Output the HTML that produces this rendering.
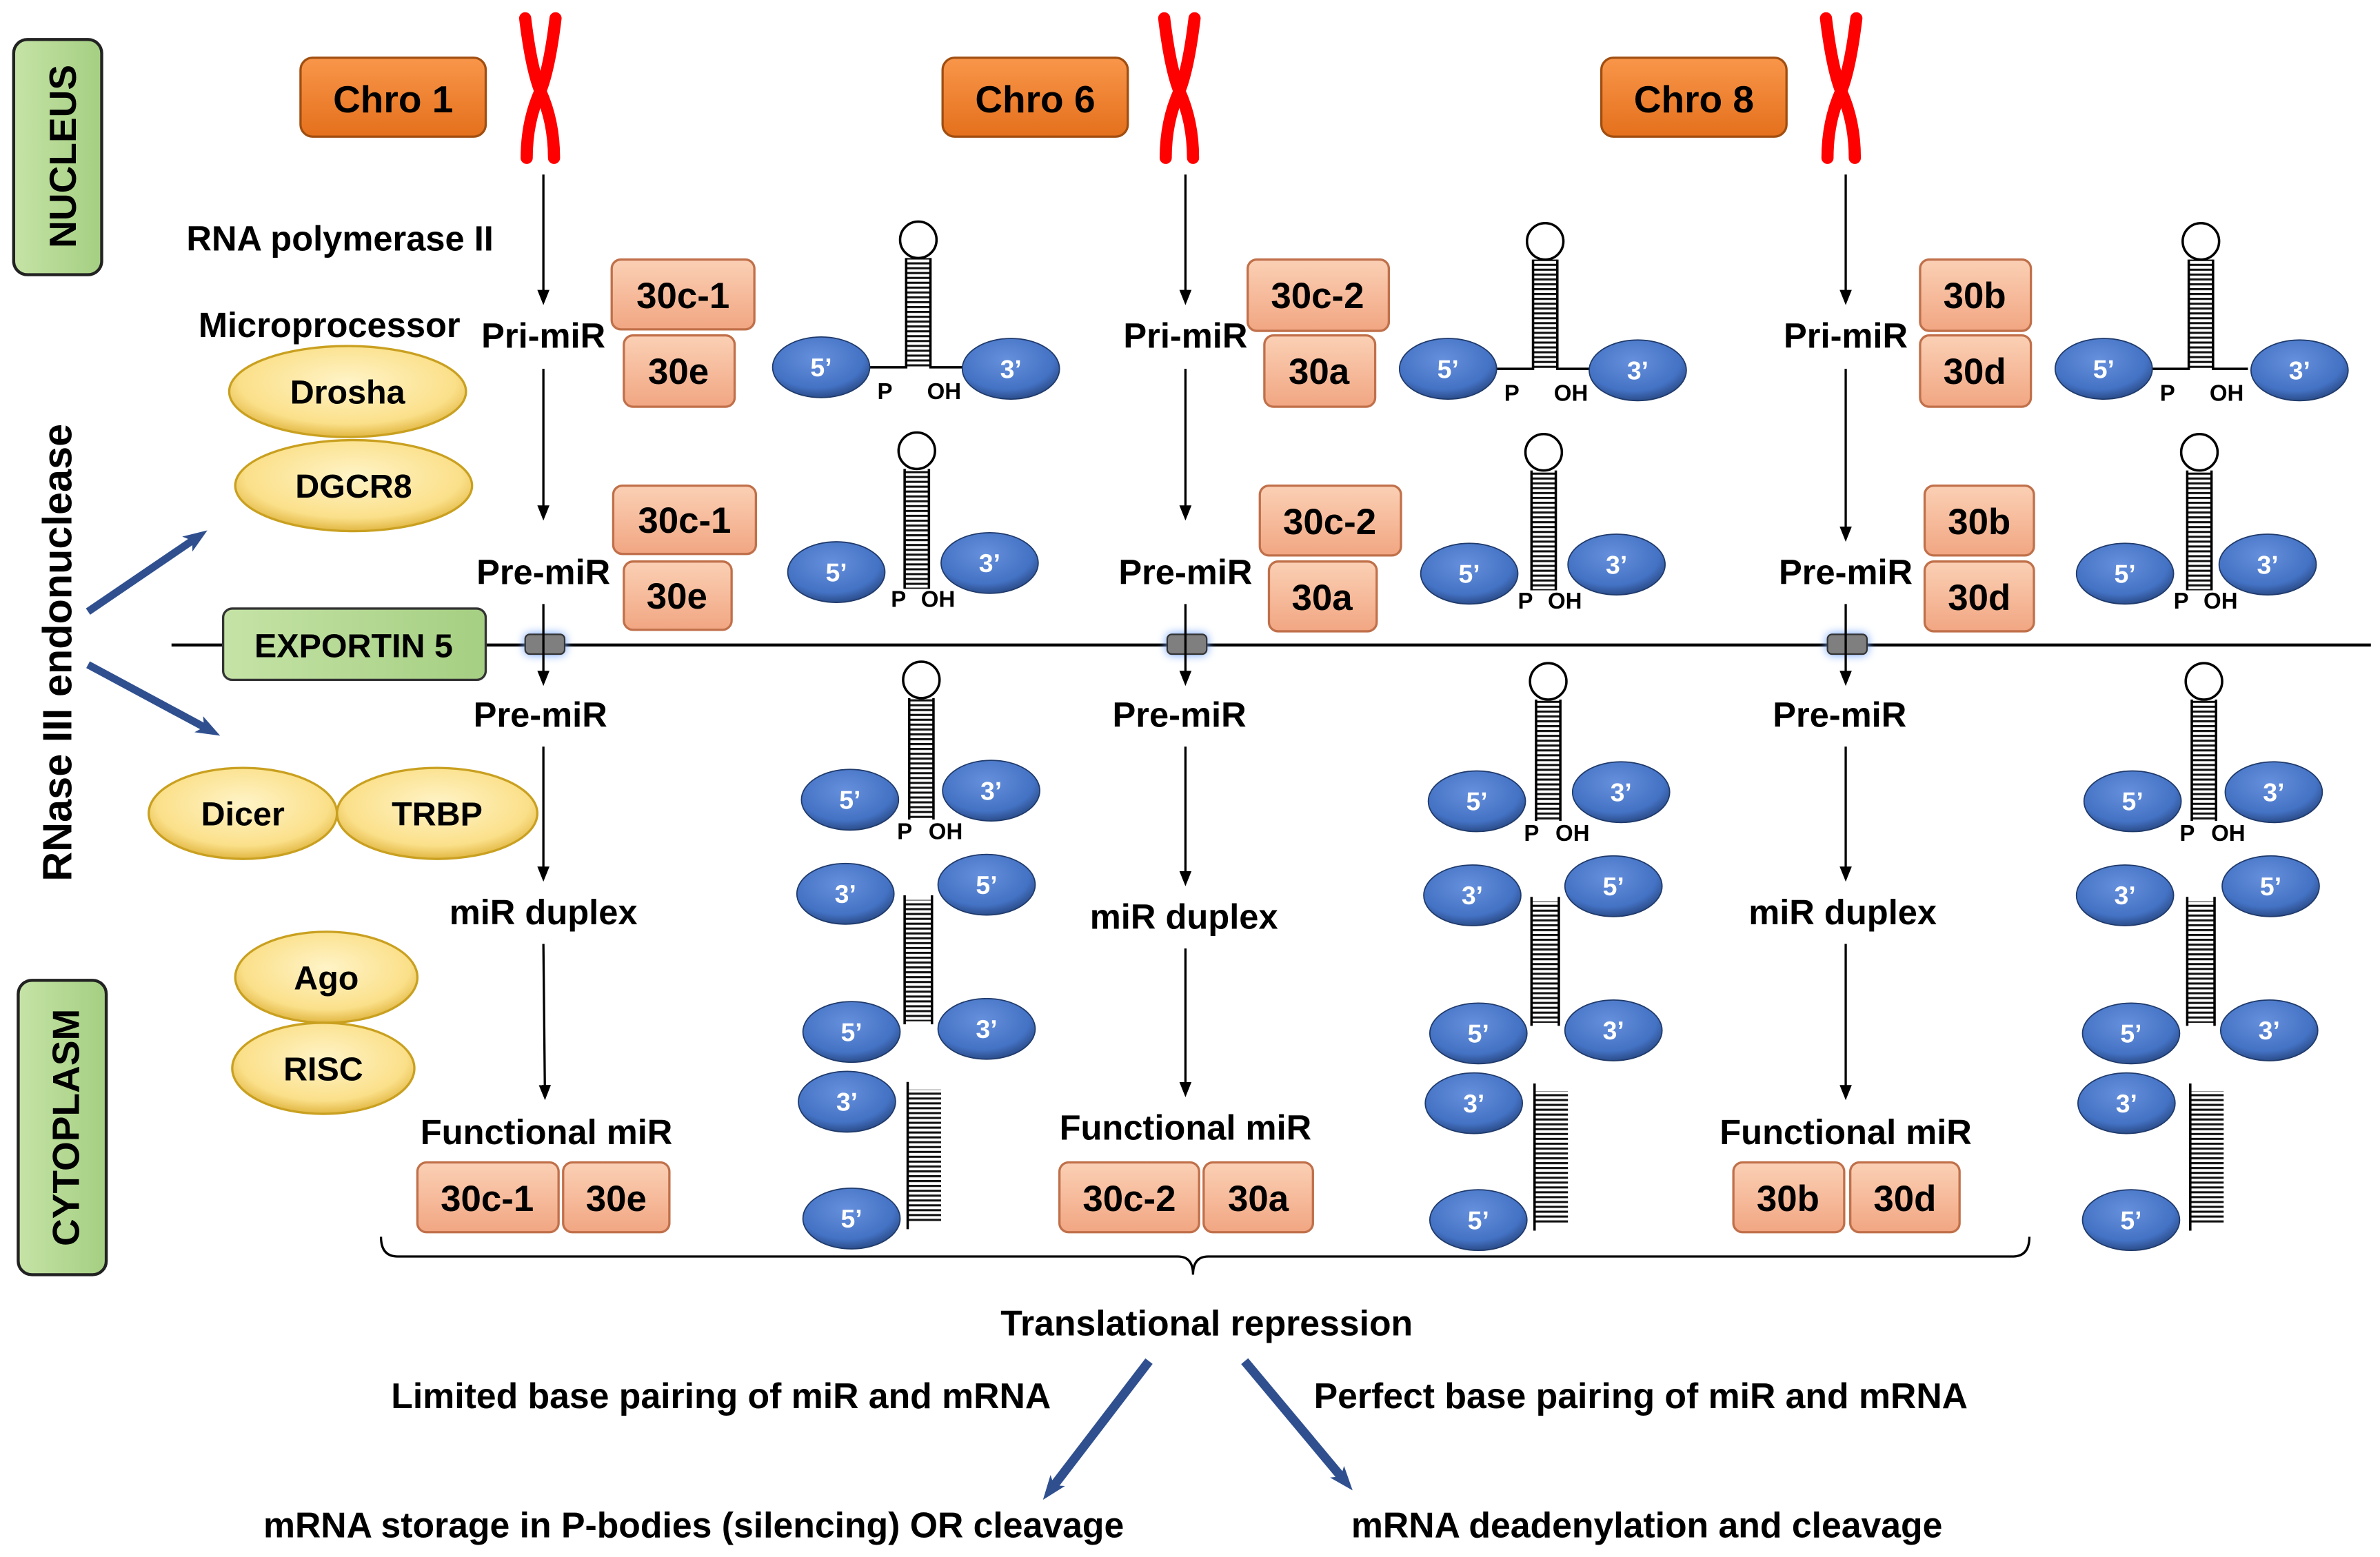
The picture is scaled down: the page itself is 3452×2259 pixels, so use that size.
<!DOCTYPE html>
<html><head><meta charset="utf-8"><style>
html,body{margin:0;padding:0;background:#fff;}
svg{display:block;}
text{font-family:"Liberation Sans",Arial,sans-serif;font-weight:bold;}
</style></head><body>
<svg width="3452" height="2259" viewBox="0 0 1568 1026" xmlns="http://www.w3.org/2000/svg">
<defs>
<radialGradient id="gb" cx="0.45" cy="0.35" r="0.7"><stop offset="0" stop-color="#6690dc"/><stop offset="0.7" stop-color="#4472c4"/><stop offset="1" stop-color="#24427a"/></radialGradient>
<radialGradient id="gy" cx="0.5" cy="0.4" r="0.65"><stop offset="0" stop-color="#fff4c8"/><stop offset="0.7" stop-color="#fbe08a"/><stop offset="1" stop-color="#d9a92a"/></radialGradient>
<linearGradient id="gs" x1="0" y1="0" x2="0" y2="1"><stop offset="0" stop-color="#fbd0b5"/><stop offset="1" stop-color="#f1a682"/></linearGradient>
<linearGradient id="go" x1="0" y1="0" x2="0" y2="1"><stop offset="0" stop-color="#f9964a"/><stop offset="1" stop-color="#e4701c"/></linearGradient>
<linearGradient id="gg" x1="0" y1="0" x2="1" y2="0"><stop offset="0" stop-color="#c5e3a6"/><stop offset="1" stop-color="#a5cf82"/></linearGradient>
<pattern id="lad" patternUnits="userSpaceOnUse" width="30" height="3.2"><rect x="0" y="0" width="30" height="1.4" fill="#111"/></pattern>
<marker id="ah" markerWidth="10" markerHeight="10" refX="5" refY="5" orient="auto" markerUnits="userSpaceOnUse"><path d="M0,1 L10,5 L0,9 z" fill="#000"/></marker>
<marker id="bh" markerWidth="16" markerHeight="16" refX="8" refY="8" orient="auto" markerUnits="userSpaceOnUse"><path d="M0,2 L16,8 L0,14 L4,8 z" fill="#2f4f8f"/></marker>
</defs>

<rect x="9" y="26" width="58" height="155" rx="9" fill="url(#gg)" stroke="#222" stroke-width="2"/>
<text transform="translate(50,103) rotate(-90)" text-anchor="middle" font-size="25">NUCLEUS</text>
<rect x="12" y="646" width="58" height="194" rx="9" fill="url(#gg)" stroke="#222" stroke-width="2"/>
<text transform="translate(52,743) rotate(-90)" text-anchor="middle" font-size="25">CYTOPLASM</text>
<text transform="translate(47,430) rotate(-90)" text-anchor="middle" font-size="27">RNase III endonuclease</text>
<line x1="58" y1="403" x2="130" y2="354" stroke="#2f4f8f" stroke-width="5" marker-end="url(#bh)"/>
<line x1="58" y1="438" x2="138" y2="481" stroke="#2f4f8f" stroke-width="5" marker-end="url(#bh)"/>

<g stroke="#c9a020" stroke-width="1.5" fill="url(#gy)">
<ellipse cx="229" cy="258" rx="78" ry="30"/><ellipse cx="233" cy="320" rx="78" ry="30"/>
<ellipse cx="160" cy="536" rx="62" ry="30"/><ellipse cx="288" cy="536" rx="66" ry="30"/>
<ellipse cx="215" cy="644" rx="60" ry="30"/><ellipse cx="213" cy="704" rx="60" ry="30"/>
</g>
<g font-size="22" text-anchor="middle">
<text x="229" y="266">Drosha</text><text x="233" y="328">DGCR8</text>
<text x="160" y="544">Dicer</text><text x="288" y="544">TRBP</text>
<text x="215" y="652">Ago</text><text x="213" y="712">RISC</text>
</g>
<g font-size="23" text-anchor="middle">
<text x="224" y="165">RNA polymerase II</text><text x="217" y="222">Microprocessor</text>
</g>

<line x1="113" y1="425" x2="1562" y2="425" stroke="#000" stroke-width="2"/>
<rect x="147" y="401" width="173" height="47" rx="6" fill="url(#gg)" stroke="#333" stroke-width="1.5"/>
<text x="233" y="433" font-size="22" text-anchor="middle">EXPORTIN 5</text>
<g fill="#7f7f7f" stroke="#333" stroke-width="1">
<rect x="346" y="418" width="26" height="13" rx="3" style="filter:drop-shadow(0 0 3px #6aa0ff)"/>
<rect x="769" y="418" width="26" height="13" rx="3" style="filter:drop-shadow(0 0 3px #6aa0ff)"/>
<rect x="1204" y="418" width="26" height="13" rx="3" style="filter:drop-shadow(0 0 3px #6aa0ff)"/>
</g>

<g fill="url(#go)" stroke="#a04e10" stroke-width="1.5">
<rect x="198" y="38" width="122" height="52" rx="8"/><rect x="621" y="38" width="122" height="52" rx="8"/><rect x="1055" y="38" width="122" height="52" rx="8"/>
</g>
<g font-size="25" text-anchor="middle"><text x="259" y="74">Chro 1</text><text x="682" y="74">Chro 6</text><text x="1116" y="74">Chro 8</text></g>
<g fill="none" stroke="#ff0000" stroke-width="8" stroke-linecap="round">
<path d="M346,12 Q350,45 356,60 Q365,80 365,104"/><path d="M366,12 Q362,45 356,60 Q347,80 347,104"/>
<path d="M767,12 Q771,45 777,60 Q786,80 786,104"/><path d="M787,12 Q783,45 777,60 Q768,80 768,104"/>
<path d="M1203,12 Q1207,45 1213,60 Q1222,80 1222,104"/><path d="M1223,12 Q1219,45 1213,60 Q1204,80 1204,104"/>
</g>

<g stroke="#000" stroke-width="1.5" marker-end="url(#ah)">
<line x1="358" y1="115" x2="358" y2="196"/><line x1="358" y1="243" x2="358" y2="338"/><line x1="358" y1="398" x2="358" y2="447"/><line x1="358" y1="492" x2="358" y2="576"/><line x1="358" y1="622" x2="359" y2="720"/>
<line x1="781" y1="115" x2="781" y2="196"/><line x1="781" y1="243" x2="781" y2="338"/><line x1="781" y1="398" x2="781" y2="447"/><line x1="781" y1="492" x2="781" y2="579"/><line x1="781" y1="625" x2="781" y2="718"/>
<line x1="1216" y1="115" x2="1216" y2="196"/><line x1="1216" y1="243" x2="1216" y2="352"/><line x1="1216" y1="398" x2="1216" y2="447"/><line x1="1216" y1="492" x2="1216" y2="576"/><line x1="1216" y1="622" x2="1216" y2="720"/>
</g>
<g font-size="23" text-anchor="middle">
<text x="358" y="229">Pri-miR</text><text x="358" y="385">Pre-miR</text><text x="356" y="479">Pre-miR</text><text x="358" y="609">miR duplex</text><text x="360" y="754">Functional miR</text>
<text x="781" y="229">Pri-miR</text><text x="781" y="385">Pre-miR</text><text x="777" y="479">Pre-miR</text><text x="780" y="612">miR duplex</text><text x="781" y="751">Functional miR</text>
<text x="1216" y="229">Pri-miR</text><text x="1216" y="385">Pre-miR</text><text x="1212" y="479">Pre-miR</text><text x="1214" y="609">miR duplex</text><text x="1216" y="754">Functional miR</text>
</g>

<g fill="url(#gs)" stroke="#c0704a" stroke-width="1.5">
<rect x="403" y="171" width="94" height="46" rx="6"/><rect x="411" y="221" width="73" height="47" rx="6"/>
<rect x="404" y="320" width="94" height="45" rx="6"/><rect x="411" y="370" width="71" height="45" rx="6"/>
<rect x="822" y="171" width="93" height="47" rx="6"/><rect x="833" y="221" width="73" height="47" rx="6"/>
<rect x="830" y="320" width="93" height="46" rx="6"/><rect x="836" y="370" width="71" height="46" rx="6"/>
<rect x="1265" y="171" width="73" height="47" rx="6"/><rect x="1265" y="221" width="73" height="47" rx="6"/>
<rect x="1268" y="320" width="72" height="46" rx="6"/><rect x="1268" y="370" width="72" height="46" rx="6"/>
<rect x="275" y="766" width="93" height="46" rx="6"/><rect x="371" y="766" width="70" height="46" rx="6"/>
<rect x="698" y="766" width="92" height="46" rx="6"/><rect x="793" y="766" width="72" height="46" rx="6"/>
<rect x="1142" y="766" width="73" height="46" rx="6"/><rect x="1219" y="766" width="72" height="46" rx="6"/>
</g>
<g font-size="24" text-anchor="middle">
<text x="450" y="203">30c-1</text><text x="447" y="253">30e</text><text x="451" y="351">30c-1</text><text x="446" y="401">30e</text>
<text x="868" y="203">30c-2</text><text x="869" y="253">30a</text><text x="876" y="352">30c-2</text><text x="871" y="402">30a</text>
<text x="1301" y="203">30b</text><text x="1301" y="253">30d</text><text x="1304" y="352">30b</text><text x="1304" y="402">30d</text>
<text x="321" y="798">30c-1</text><text x="406" y="798">30e</text><text x="744" y="798">30c-2</text><text x="829" y="798">30a</text>
<text x="1178" y="798">30b</text><text x="1255" y="798">30d</text>
</g>

<g>
<rect x="597" y="170" width="16" height="72" fill="url(#lad)"/>
<path d="M573,242 H597 V170 M613,170 V242 H636" fill="none" stroke="#000" stroke-width="1.6"/>
<circle cx="605" cy="158" r="12" fill="#fff" stroke="#000" stroke-width="1.6"/>
<rect x="596" y="309" width="16" height="79" fill="url(#lad)"/>
<path d="M596,309 V388 M612,309 V388" stroke="#000" stroke-width="1.6"/>
<circle cx="604" cy="297" r="12" fill="#fff" stroke="#000" stroke-width="1.6"/>
<rect x="599" y="460" width="16" height="80" fill="url(#lad)"/>
<path d="M599,460 V540 M615,460 V540" stroke="#000" stroke-width="1.6"/>
<circle cx="607" cy="448" r="12" fill="#fff" stroke="#000" stroke-width="1.6"/>
<rect x="596" y="593" width="18" height="80" fill="url(#lad)"/>
<path d="M596,590 V675 M614,590 V675" stroke="#000" stroke-width="1.6"/>
<rect x="598" y="718" width="22" height="88" fill="url(#lad)"/>
<path d="M598,713 V810" stroke="#000" stroke-width="1.6"/>
<g fill="url(#gb)" stroke="#1f3a6b" stroke-width="0.8">
<ellipse cx="541" cy="242" rx="32" ry="20"/><ellipse cx="666" cy="243" rx="32" ry="20"/>
<ellipse cx="551" cy="377" rx="32" ry="20"/><ellipse cx="652" cy="371" rx="32" ry="20"/>
<ellipse cx="560" cy="527" rx="32" ry="20"/><ellipse cx="653" cy="521" rx="32" ry="20"/>
<ellipse cx="557" cy="589" rx="32" ry="20"/><ellipse cx="650" cy="583" rx="32" ry="20"/>
<ellipse cx="561" cy="680" rx="32" ry="20"/><ellipse cx="650" cy="678" rx="32" ry="20"/>
<ellipse cx="558" cy="726" rx="32" ry="20"/><ellipse cx="561" cy="803" rx="32" ry="20"/>
</g>
<g fill="#fff" font-size="17" text-anchor="middle">
<text x="541" y="248">5’</text><text x="666" y="249">3’</text>
<text x="551" y="383">5’</text><text x="652" y="377">3’</text>
<text x="560" y="533">5’</text><text x="653" y="527">3’</text>
<text x="557" y="595">3’</text><text x="650" y="589">5’</text>
<text x="561" y="686">5’</text><text x="650" y="684">3’</text>
<text x="558" y="732">3’</text><text x="561" y="809">5’</text>
</g>
<g font-size="15" text-anchor="middle">
<text x="583" y="263">P</text><text x="622" y="263">OH</text>
<text x="592" y="400">P</text><text x="618" y="400">OH</text>
<text x="596" y="553">P</text><text x="623" y="553">OH</text>
</g>
</g>
<g transform="translate(413,1)">
<rect x="597" y="170" width="16" height="72" fill="url(#lad)"/>
<path d="M573,242 H597 V170 M613,170 V242 H636" fill="none" stroke="#000" stroke-width="1.6"/>
<circle cx="605" cy="158" r="12" fill="#fff" stroke="#000" stroke-width="1.6"/>
<rect x="596" y="309" width="16" height="79" fill="url(#lad)"/>
<path d="M596,309 V388 M612,309 V388" stroke="#000" stroke-width="1.6"/>
<circle cx="604" cy="297" r="12" fill="#fff" stroke="#000" stroke-width="1.6"/>
<rect x="599" y="460" width="16" height="80" fill="url(#lad)"/>
<path d="M599,460 V540 M615,460 V540" stroke="#000" stroke-width="1.6"/>
<circle cx="607" cy="448" r="12" fill="#fff" stroke="#000" stroke-width="1.6"/>
<rect x="596" y="593" width="18" height="80" fill="url(#lad)"/>
<path d="M596,590 V675 M614,590 V675" stroke="#000" stroke-width="1.6"/>
<rect x="598" y="718" width="22" height="88" fill="url(#lad)"/>
<path d="M598,713 V810" stroke="#000" stroke-width="1.6"/>
<g fill="url(#gb)" stroke="#1f3a6b" stroke-width="0.8">
<ellipse cx="541" cy="242" rx="32" ry="20"/><ellipse cx="666" cy="243" rx="32" ry="20"/>
<ellipse cx="555" cy="377" rx="32" ry="20"/><ellipse cx="652" cy="371" rx="32" ry="20"/>
<ellipse cx="560" cy="527" rx="32" ry="20"/><ellipse cx="655" cy="521" rx="32" ry="20"/>
<ellipse cx="557" cy="589" rx="32" ry="20"/><ellipse cx="650" cy="583" rx="32" ry="20"/>
<ellipse cx="561" cy="680" rx="32" ry="20"/><ellipse cx="650" cy="678" rx="32" ry="20"/>
<ellipse cx="558" cy="726" rx="32" ry="20"/><ellipse cx="561" cy="803" rx="32" ry="20"/>
</g>
<g fill="#fff" font-size="17" text-anchor="middle">
<text x="541" y="248">5’</text><text x="666" y="249">3’</text>
<text x="555" y="383">5’</text><text x="652" y="377">3’</text>
<text x="560" y="533">5’</text><text x="655" y="527">3’</text>
<text x="557" y="595">3’</text><text x="650" y="589">5’</text>
<text x="561" y="686">5’</text><text x="650" y="684">3’</text>
<text x="558" y="732">3’</text><text x="561" y="809">5’</text>
</g>
<g font-size="15" text-anchor="middle">
<text x="583" y="263">P</text><text x="622" y="263">OH</text>
<text x="592" y="400">P</text><text x="618" y="400">OH</text>
<text x="596" y="553">P</text><text x="623" y="553">OH</text>
</g>
</g>
<g transform="translate(845,1)">
<rect x="597" y="170" width="16" height="72" fill="url(#lad)"/>
<path d="M573,242 H597 V170 M613,170 V242 H636" fill="none" stroke="#000" stroke-width="1.6"/>
<circle cx="605" cy="158" r="12" fill="#fff" stroke="#000" stroke-width="1.6"/>
<rect x="596" y="309" width="16" height="79" fill="url(#lad)"/>
<path d="M596,309 V388 M612,309 V388" stroke="#000" stroke-width="1.6"/>
<circle cx="604" cy="297" r="12" fill="#fff" stroke="#000" stroke-width="1.6"/>
<rect x="599" y="460" width="16" height="80" fill="url(#lad)"/>
<path d="M599,460 V540 M615,460 V540" stroke="#000" stroke-width="1.6"/>
<circle cx="607" cy="448" r="12" fill="#fff" stroke="#000" stroke-width="1.6"/>
<rect x="596" y="593" width="18" height="80" fill="url(#lad)"/>
<path d="M596,590 V675 M614,590 V675" stroke="#000" stroke-width="1.6"/>
<rect x="598" y="718" width="22" height="88" fill="url(#lad)"/>
<path d="M598,713 V810" stroke="#000" stroke-width="1.6"/>
<g fill="url(#gb)" stroke="#1f3a6b" stroke-width="0.8">
<ellipse cx="541" cy="242" rx="32" ry="20"/><ellipse cx="670" cy="243" rx="32" ry="20"/>
<ellipse cx="555" cy="377" rx="32" ry="20"/><ellipse cx="649" cy="371" rx="32" ry="20"/>
<ellipse cx="560" cy="527" rx="32" ry="20"/><ellipse cx="653" cy="521" rx="32" ry="20"/>
<ellipse cx="555" cy="589" rx="32" ry="20"/><ellipse cx="651" cy="583" rx="32" ry="20"/>
<ellipse cx="559" cy="680" rx="32" ry="20"/><ellipse cx="650" cy="678" rx="32" ry="20"/>
<ellipse cx="556" cy="726" rx="32" ry="20"/><ellipse cx="559" cy="803" rx="32" ry="20"/>
</g>
<g fill="#fff" font-size="17" text-anchor="middle">
<text x="541" y="248">5’</text><text x="670" y="249">3’</text>
<text x="555" y="383">5’</text><text x="649" y="377">3’</text>
<text x="560" y="533">5’</text><text x="653" y="527">3’</text>
<text x="555" y="595">3’</text><text x="651" y="589">5’</text>
<text x="559" y="686">5’</text><text x="650" y="684">3’</text>
<text x="556" y="732">3’</text><text x="559" y="809">5’</text>
</g>
<g font-size="15" text-anchor="middle">
<text x="583" y="263">P</text><text x="622" y="263">OH</text>
<text x="592" y="400">P</text><text x="618" y="400">OH</text>
<text x="596" y="553">P</text><text x="623" y="553">OH</text>
</g>
</g>

<path d="M251,815 Q251,828 262,828 H776 Q786,828 786,840 Q786,828 796,828 H1326 Q1337,828 1337,815" fill="none" stroke="#000" stroke-width="1.5"/>
<g font-size="23.5" text-anchor="middle">
<text x="795" y="880">Translational repression</text>
<text x="475" y="928">Limited base pairing of miR and mRNA</text>
<text x="1081" y="928">Perfect base pairing of miR and mRNA</text>
<text x="457" y="1013">mRNA storage in P-bodies (silencing) OR cleavage</text>
<text x="1085" y="1013">mRNA deadenylation and cleavage</text>
</g>
<line x1="757" y1="897" x2="692" y2="982" stroke="#2f4f8f" stroke-width="6" marker-end="url(#bh)"/>
<line x1="820" y1="897" x2="886" y2="976" stroke="#2f4f8f" stroke-width="6" marker-end="url(#bh)"/>
</svg>
</body></html>
